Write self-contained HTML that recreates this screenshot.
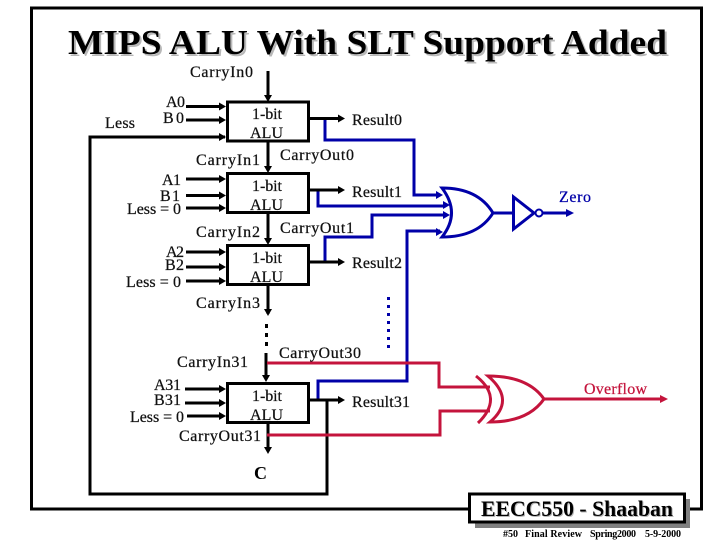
<!DOCTYPE html>
<html><head><meta charset="utf-8"><style>
html,body{margin:0;padding:0;background:#fff}
svg{display:block}
text{font-family:"Liberation Serif",serif;font-size:16px;fill:#111;stroke:#111;stroke-width:.25}
.k{fill:none;stroke:#000;stroke-width:3}
.b{fill:none;stroke:#0000a8;stroke-width:3}
.r{fill:none;stroke:#c4143c;stroke-width:3}
</style></head><body>
<svg width="720" height="540" viewBox="0 0 720 540" xmlns="http://www.w3.org/2000/svg">
<defs>
<g id="ah"><path d="M0 0l-7-4v8z"/></g>
<g id="ahv"><path d="M0 0l-4-7h8z"/></g>
</defs>
<rect width="720" height="540" fill="#fff"/>
<rect x="31.5" y="8" width="670" height="501" fill="none" stroke="#000" stroke-width="3"/>

<text x="70" y="56" textLength="599" lengthAdjust="spacingAndGlyphs" style="font-size:35px;font-weight:bold;fill:#b8b8b8;stroke:none">MIPS ALU With SLT Support Added</text>
<text x="68" y="54" textLength="599" lengthAdjust="spacingAndGlyphs" style="font-size:35px;font-weight:bold;fill:#000;stroke:none">MIPS ALU With SLT Support Added</text>

<!-- blue wires -->
<polyline class="b" points="325,119 325,140 414,140 414,195 440,195"/>
<polyline class="b" points="318,190 318,206 446,206"/>
<polyline class="b" points="325,262 325,237 372,237 372,215 446,215"/>
<polyline class="b" points="318,400 318,381 407,381 407,231 440,231"/>
<path d="M443 195l-7-4v8zM450 205l-7-4v8zM450 215l-7-4v8zM443 232l-7-4v8z" fill="#0000a8"/>
<path class="b" stroke-dasharray="3 5" d="M388.500 297V352"/>
<!-- OR -->
<path class="b" d="M442 188Q478 188 493 213Q478 237 442 237Q461 213 442 188Z"/>
<path class="b" d="M493 213H513"/>
<path d="M513.500 197V229L534 213Z" fill="none" stroke="#0000a8" stroke-width="3"/>
<circle cx="539" cy="213" r="3.500" fill="none" stroke="#0000a8" stroke-width="2"/>
<path class="b" d="M543 213H567"/>
<path d="M574 213l-8-4v8z" fill="#0000a8"/>

<!-- black wires -->
<polyline class="k" points="225,137 90,137 90,494 327,494 327,400"/>
<g class="k">
<path d="M268 71V97M268 141V168M268 213V240M268 285V314M266 353V377M268 423V448"/>
<path d="M186 106.500H220M186 120H220M186 195.500H220M186 179H220M186 208H220M186 252H220M186 267H220M186 281H220M185 389H220M185 403H220M187 416H220"/>
<path d="M309 118.500H338M309 190H338M309 262H338M309 400H338"/>
<path stroke-dasharray="4 5" d="M266.500 324V348"/>
</g>
<g fill="#000">
<use href="#ah" x="226" y="106.500"/><use href="#ah" x="226" y="120"/><use href="#ah" x="226" y="137"/>
<use href="#ah" x="226" y="179"/><use href="#ah" x="226" y="195.500"/><use href="#ah" x="226" y="208"/>
<use href="#ah" x="226" y="252"/><use href="#ah" x="226" y="267"/><use href="#ah" x="226" y="281"/>
<use href="#ah" x="226" y="389"/><use href="#ah" x="226" y="403"/><use href="#ah" x="226" y="416"/>
<use href="#ah" x="345" y="118.500"/><use href="#ah" x="345" y="190"/><use href="#ah" x="345" y="262"/><use href="#ah" x="345" y="400"/>
<use href="#ahv" x="268" y="102"/><use href="#ahv" x="268" y="173"/><use href="#ahv" x="268" y="245"/><use href="#ahv" x="268" y="316"/><use href="#ahv" x="266" y="382"/><use href="#ahv" x="268" y="454"/>
</g>
<g fill="#fff" stroke="#000" stroke-width="3">
<rect x="227.500" y="102" width="81" height="39"/>
<rect x="227.500" y="173.500" width="81" height="39"/>
<rect x="227.500" y="245.500" width="81" height="39"/>
<rect x="227.500" y="383.500" width="81" height="39"/>
</g>

<!-- red wires -->
<polyline class="r" points="267,363 439,363 439,387 490,387"/>
<polyline class="r" points="267,435 440,435 440,411 490,411"/>
<path class="r" d="M476 376Q504 398 478 423"/>
<path class="r" d="M488 376Q528 376 544 399Q528 422 490 422Q516 400 488 376Z"/>
<path class="r" d="M544 399H660"/>
<path d="M668 399l-8-4v8z" fill="#c4143c"/>

<!-- labels -->
<text x="190" y="77" textLength="63">CarryIn0</text>
<text x="166" y="107" textLength="19">A0</text>
<text x="163" y="123" textLength="21">B0</text>
<text x="105" y="128" textLength="30">Less</text>
<text x="252" y="119" textLength="30">1-bit</text>
<text x="250" y="138" textLength="33">ALU</text>
<text x="352" y="125" textLength="50">Result0</text>
<text x="196" y="165" textLength="64">CarryIn1</text>
<text x="280" y="160" textLength="74">CarryOut0</text>
<text x="162" y="185" textLength="19">A1</text>
<text x="160" y="201" textLength="20">B1</text>
<text x="127" y="214" textLength="54">Less = 0</text>
<text x="252" y="191" textLength="30">1-bit</text>
<text x="250" y="210" textLength="33">ALU</text>
<text x="352" y="197" textLength="50">Result1</text>
<text x="196" y="237" textLength="64">CarryIn2</text>
<text x="280" y="233" textLength="74">CarryOut1</text>
<text x="166" y="257" textLength="18">A2</text>
<text x="165" y="270" textLength="19">B2</text>
<text x="126" y="287" textLength="55">Less = 0</text>
<text x="252" y="263" textLength="30">1-bit</text>
<text x="250" y="282" textLength="33">ALU</text>
<text x="352" y="268" textLength="50">Result2</text>
<text x="196" y="308" textLength="64">CarryIn3</text>
<text x="177" y="367" textLength="71">CarryIn31</text>
<text x="279" y="358" textLength="82">CarryOut30</text>
<text x="154" y="390" textLength="27">A31</text>
<text x="154" y="405" textLength="27">B31</text>
<text x="130" y="422" textLength="54">Less = 0</text>
<text x="252" y="401" textLength="30">1-bit</text>
<text x="250" y="420" textLength="33">ALU</text>
<text x="352" y="407" textLength="58">Result31</text>
<text x="179" y="441" textLength="82">CarryOut31</text>
<text x="254" y="479" textLength="13" style="font-size:18px;font-weight:bold;stroke:none;fill:#000">C</text>
<text x="559" y="202" textLength="32" style="fill:#0000a8;stroke:#0000a8">Zero</text>
<text x="584" y="394" textLength="63" style="fill:#c4143c;stroke:#c4143c">Overflow</text>

<!-- footer -->
<rect x="475" y="499" width="215" height="29" fill="#808080"/>
<rect x="469.500" y="494" width="215" height="28" fill="#fff" stroke="#000" stroke-width="3"/>
<text x="482" y="517" textLength="192" lengthAdjust="spacingAndGlyphs" style="font-size:22px;font-weight:bold;fill:#b8b8b8;stroke:none">EECC550 - Shaaban</text>
<text x="481" y="516" textLength="192" lengthAdjust="spacingAndGlyphs" style="font-size:22px;font-weight:bold;fill:#000;stroke:none">EECC550 - Shaaban</text>
<text x="503" y="537" textLength="15" style="font-size:10px;font-weight:bold;stroke:none;fill:#000">#50</text>
<text x="525" y="537" textLength="57" style="font-size:10px;font-weight:bold;stroke:none;fill:#000">Final Review</text>
<text x="590" y="537" textLength="46" style="font-size:10px;font-weight:bold;stroke:none;fill:#000">Spring2000</text>
<text x="645" y="537" textLength="36" style="font-size:10px;font-weight:bold;stroke:none;fill:#000">5-9-2000</text>
</svg>
</body></html>
